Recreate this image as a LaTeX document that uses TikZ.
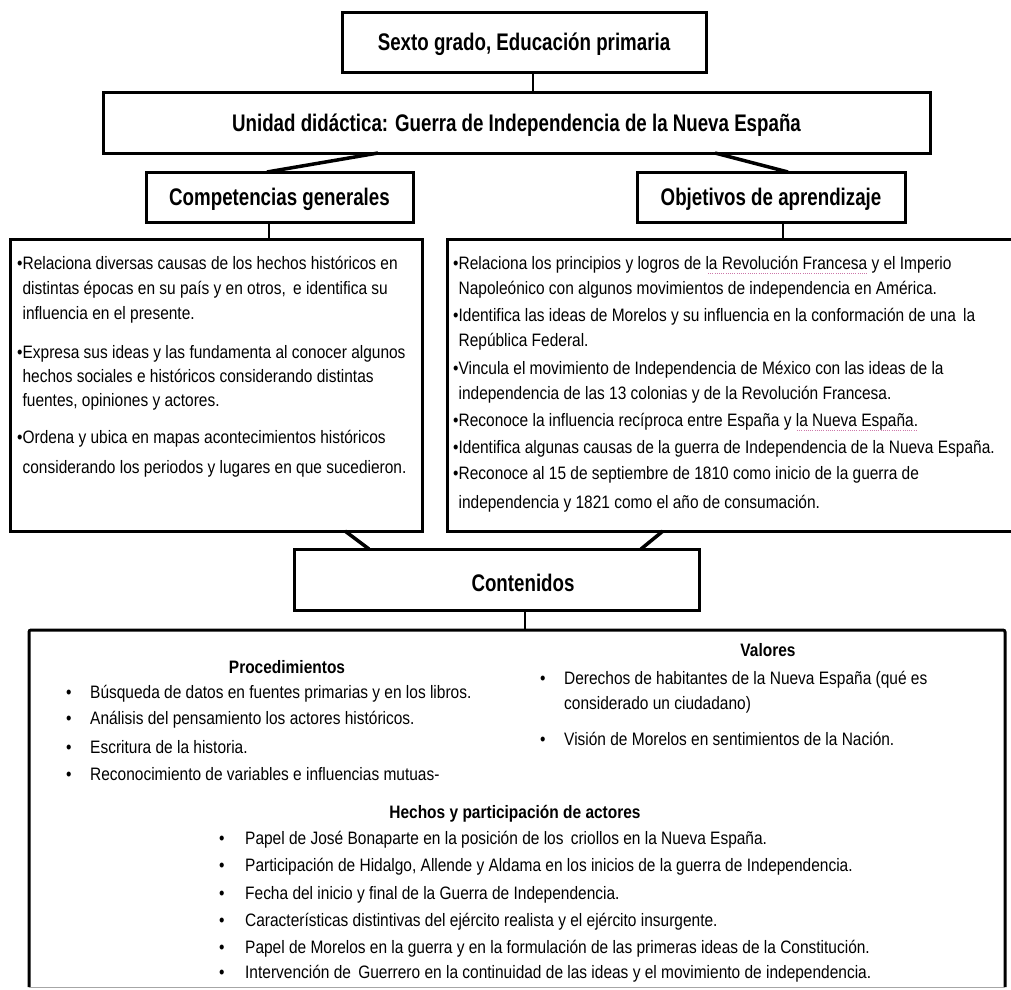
\documentclass[tikz,border=0pt]{standalone}
\usepackage{fontspec}
\setmainfont{Liberation Sans}
\newfontfamily\headfont{Liberation Sans}[FakeStretch=0.78]
\newfontfamily\bodyfont{Liberation Sans}[FakeStretch=0.86]
\usetikzlibrary{calc}

\tikzset{
  box/.style={draw, line width=3pt, fill=white, inner sep=0pt, outer sep=0pt},
  head/.style={font=\headfont\bfseries\fontsize{24}{28}\selectfont, text height=17pt, text depth=0pt},
  txt/.style={font=\bodyfont\fontsize{18}{25}\selectfont, inner sep=0pt, anchor=base west},
  sub/.style={font=\bodyfont\bfseries\fontsize{18}{25}\selectfont, inner sep=0pt, anchor=base},
  link/.style={line width=2.5pt},
  slant/.style={line width=3.5pt},
  squiggle/.style={draw={rgb,255:red,205;green,120;blue,170}, line width=0.9pt, dash pattern=on 1pt off 1.2pt}
}
\newcommand\ind{\hphantom{•}}

\begin{document}
\begin{tikzpicture}[x=1pt, y=-1pt]
\useasboundingbox (0,0) rectangle (1011,989);
\fill[white] (0,0) rectangle (1011,989);

% --- title boxes ---
\node[box, head, minimum width=364pt, minimum height=60pt] (grado) at (524,42) {Sexto grado, Educación primaria};
\node[box, head, minimum width=827pt, minimum height=61pt] (unidad) at (516.5,122.5) {Unidad didáctica: Guerra de Independencia de la Nueva España};
\node[box, head, minimum width=267pt, minimum height=50pt] (comp) at (279.5,197) {Competencias generales};
\node[box, head, minimum width=268pt, minimum height=50pt] (obj) at (771,197) {Objetivos de aprendizaje};

% --- content boxes ---
\node[box, minimum width=412pt, minimum height=292pt] (compbox) at (216,385) {};
\node[box, minimum width=578pt, minimum height=292pt] (objbox) at (736,385) {};
\node[box, minimum width=405pt, minimum height=61pt] (cont) at (496.5,579.5) {};
\node[head, inner sep=0pt] (contt) at (523,583) {Contenidos};
\node[inner sep=0pt, outer sep=0pt, minimum width=976pt, minimum height=357pt] (bottom) at (517,808.5) {};
\draw[line width=3pt, rounded corners=2pt] (bottom.south west) -- (bottom.north west) -- (bottom.north east) -- (bottom.south east);
\draw[line width=1pt, gray!70] (bottom.south west) -- (bottom.south east);

% --- connectors ---
\draw[link] ([xshift=9pt]grado.south) -- ([xshift=9pt]grado.south |- unidad.north);
\draw[slant] ([xshift=-138.5pt]unidad.south) -- ([xshift=-12.5pt]comp.north);
\draw[slant] ([xshift=198.5pt]unidad.south) -- ([xshift=17pt]obj.north);
\draw[link] ([xshift=-10.5pt]comp.south) -- ([xshift=-10.5pt]comp.south |- compbox.north);
\draw[link] ([xshift=12pt]obj.south) -- ([xshift=12pt]obj.south |- objbox.north);
\draw[slant] ([xshift=129pt]compbox.south) -- ([xshift=-127.5pt]cont.north);
\draw[slant] ([xshift=-73pt]objbox.south) -- ([xshift=144.5pt]cont.north);
\draw[link] ([xshift=28.5pt]cont.south) -- ([xshift=28.5pt]cont.south |- bottom.north);

% --- competencias generales ---
\node[txt] (c1a) at (17,269) {•Relaciona diversas causas de los hechos históricos en};
\node[txt] (c1b) at (17,294) {\ind distintas épocas en su país y en otros,\, e identifica su};
\node[txt] (c1c) at (17,319) {\ind influencia en el presente.};
\node[txt] (c2a) at (17,358) {•Expresa sus ideas y las fundamenta al conocer algunos};
\node[txt] (c2b) at (17,382) {\ind hechos sociales e históricos considerando distintas};
\node[txt] (c2c) at (17,406) {\ind fuentes, opiniones y actores.};
\node[txt] (c3a) at (17,443) {•Ordena y ubica en mapas acontecimientos históricos};
\node[txt] (c3b) at (17,473) {\ind considerando los periodos y lugares en que sucedieron.};

% --- objetivos de aprendizaje ---
\node[txt] (o1a) at (453,269) {•Relaciona los principios y logros de la Revolución Francesa y el Imperio};
\node[txt] (o1b) at (453,294) {\ind Napoleónico con algunos movimientos de independencia en América.};
\node[txt] (o2a) at (453,321) {•Identifica las ideas de Morelos y su influencia en la conformación de una\, la};
\node[txt] (o2b) at (453,346) {\ind República Federal.};
\node[txt] (o3a) at (453,374) {•Vincula el movimiento de Independencia de México con las ideas de la};
\node[txt] (o3b) at (453,399) {\ind independencia de las 13 colonias y de la Revolución Francesa.};
\node[txt] (o4) at (453,426) {•Reconoce la influencia recíproca entre España y la Nueva España.};
\node[txt] (o5) at (453,453) {•Identifica algunas causas de la guerra de Independencia de la Nueva España.};
\node[txt] (o6a) at (453,479) {•Reconoce al 15 de septiembre de 1810 como inicio de la guerra de};
\node[txt] (o6b) at (453,508) {\ind independencia y 1821 como el año de consumación.};
\draw[squiggle] (708,273) -- (868,273);
\draw[squiggle] (797,430) -- (917,430);

% --- contenidos: procedimientos ---
\node[sub] (proc) at (287,673) {Procedimientos};
\node[txt] (p1) at (66,698) {\makebox[24pt][l]{•}Búsqueda de datos en fuentes primarias y en los libros.};
\node[txt] (p2) at (66,724) {\makebox[24pt][l]{•}Análisis del pensamiento los actores históricos.};
\node[txt] (p3) at (66,753) {\makebox[24pt][l]{•}Escritura de la historia.};
\node[txt] (p4) at (66,780) {\makebox[24pt][l]{•}Reconocimiento de variables e influencias mutuas-};

% --- contenidos: valores ---
\node[sub] (val) at (768,656) {Valores};
\node[txt] (v1a) at (540,684) {\makebox[24pt][l]{•}Derechos de habitantes de la Nueva España (qué es};
\node[txt] (v1b) at (540,709) {\hspace*{24pt}considerado un ciudadano)};
\node[txt] (v2) at (540,745) {\makebox[24pt][l]{•}Visión de Morelos en sentimientos de la Nación.};

% --- contenidos: hechos ---
\node[sub] (hech) at (515,818) {Hechos y participación de actores};
\node[txt] (h1) at (219,844) {\makebox[26pt][l]{•}Papel de José Bonaparte en la posición de los\, criollos en la Nueva España.};
\node[txt] (h2) at (219,871) {\makebox[26pt][l]{•}Participación de Hidalgo, Allende y Aldama en los inicios de la guerra de Independencia.};
\node[txt] (h3) at (219,899) {\makebox[26pt][l]{•}Fecha del inicio y final de la Guerra de Independencia.};
\node[txt] (h4) at (219,926) {\makebox[26pt][l]{•}Características distintivas del ejército realista y el ejército insurgente.};
\node[txt] (h5) at (219,953) {\makebox[26pt][l]{•}Papel de Morelos en la guerra y en la formulación de las primeras ideas de la Constitución.};
\node[txt] (h6) at (219,978) {\makebox[26pt][l]{•}Intervención de\, Guerrero en la continuidad de las ideas y el movimiento de independencia.};
\end{tikzpicture}
\end{document}
